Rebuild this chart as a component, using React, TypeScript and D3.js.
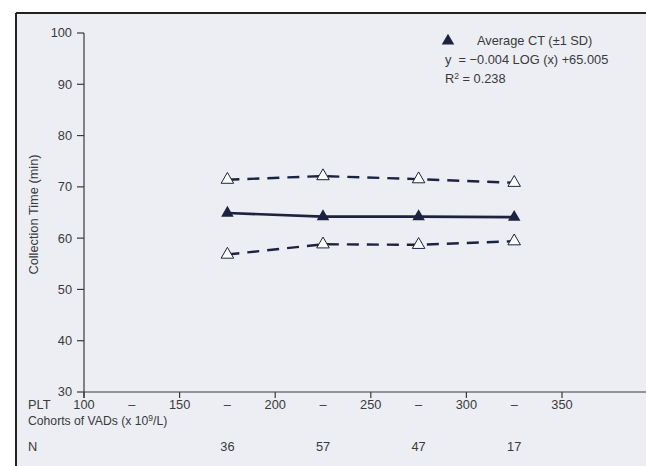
import React from 'react';
import * as d3 from 'd3';

// PLT cohort midpoints (x 10^9/L) and values
const cohorts = [175, 225, 275, 325];
const avgCT = [64.9, 64.2, 64.2, 64.1];
const upperSD = [71.4, 72.1, 71.5, 70.8];
const lowerSD = [56.8, 58.8, 58.7, 59.4];
const nCounts = [36, 57, 47, 17];

const xTicks = [100, 150, 200, 250, 300, 350];
const dashTicks = [125, 175, 225, 275, 325];
const yTicks = [30, 40, 50, 60, 70, 80, 90, 100];

const W = 646;
const H = 466;
const ink = '#1c2340';
const txt = '#3a3a3a';
const font = '"Liberation Sans", Arial, sans-serif';
const fs = 12.8;

const App = () => {
  const x = d3.scaleLinear().domain([100, 350]).range([84, 562]);
  const y = d3.scaleLinear().domain([30, 100]).range([392, 33]);

  const line = d3
    .line<number>()
    .x((_, i) => x(cohorts[i]))
    .y(d => y(d));

  const tri = d3.symbol().type(d3.symbolTriangle).size(68)();

  return (
    <svg
      width={W}
      height={H}
      style={{ position: 'absolute', left: 0, top: 0, background: '#fff' }}
      fontFamily={font}
    >
      {/* panel */}
      <rect x={16} y={13} width={W - 16} height={H - 13} fill="#eceef4" />
      <line x1={16} y1={13} x2={W} y2={13} stroke="#222" strokeWidth={2} />
      <line x1={16} y1={13} x2={16} y2={H} stroke="#222" strokeWidth={2} />

      {/* y axis */}
      <line x1={x(100)} y1={y(100)} x2={x(100)} y2={y(30) + 6} stroke={txt} strokeWidth={1.2} />
      {yTicks.map(t => (
        <g key={t}>
          <line x1={x(100) - 7} x2={x(100)} y1={y(t)} y2={y(t)} stroke={txt} strokeWidth={1.2} />
          <text x={x(100) - 12} y={y(t)} dy="0.35em" textAnchor="end" fontSize={fs} fill={txt}>
            {t}
          </text>
        </g>
      ))}
      <text
        transform={`translate(38,${(y(30) + y(100)) / 2 + 2}) rotate(-90)`}
        textAnchor="middle"
        fontSize={fs}
        fill={txt}
      >
        Collection Time (min)
      </text>

      {/* x axis */}
      <line x1={x(100)} y1={y(30)} x2={W} y2={y(30)} stroke={txt} strokeWidth={1.2} />
      {xTicks.map(t => (
        <g key={t}>
          <line x1={x(t)} x2={x(t)} y1={y(30)} y2={y(30) + 6} stroke={txt} strokeWidth={1.2} />
          <text x={x(t)} y={409} textAnchor="middle" fontSize={fs} fill={txt}>
            {t}
          </text>
        </g>
      ))}
      {dashTicks.map(t => (
        <text key={t} x={x(t)} y={409} textAnchor="middle" fontSize={fs} fill={txt}>
          –
        </text>
      ))}
      <text x={28} y={409} fontSize={fs} fill={txt}>PLT</text>
      <text x={28} y={425} fontSize={12.2} fill={txt}>
        Cohorts of VADs (x 10<tspan fontSize={8.5} dy={-4}>9</tspan>
        <tspan dy={4}>/L)</tspan>
      </text>
      <text x={28} y={451} fontSize={fs} fill={txt}>N</text>
      {nCounts.map((n, i) => (
        <text key={i} x={x(cohorts[i])} y={451} textAnchor="middle" fontSize={fs} fill={txt}>
          {n}
        </text>
      ))}

      {/* SD bands */}
      {[upperSD, lowerSD].map((s, k) => (
        <g key={k}>
          <path d={line(s) || ''} fill="none" stroke={ink} strokeWidth={2.4} strokeDasharray="12,8" />
          {s.map((v, i) => (
            <path
              key={i}
              d={tri || ''}
              transform={`translate(${x(cohorts[i])},${y(v)})`}
              fill="#fff"
              stroke={ink}
              strokeWidth={1}
            />
          ))}
        </g>
      ))}

      {/* average */}
      <path d={line(avgCT) || ''} fill="none" stroke={ink} strokeWidth={2.6} />
      {avgCT.map((v, i) => (
        <path key={i} d={tri || ''} transform={`translate(${x(cohorts[i])},${y(v)})`} fill={ink} />
      ))}

      {/* legend */}
      <path d={tri || ''} transform="translate(448,41)" fill={ink} />
      <text x={477} y={45} fontSize={fs} fill={txt}>Average CT (±1 SD)</text>
      <text x={445} y={64} fontSize={fs} fill={txt}>
        {'y\u00a0\u00a0= −0.004 LOG (x) +65.005'}
      </text>
      <text x={445} y={83} fontSize={fs} fill={txt}>
        R<tspan fontSize={8.5} dy={-4}>2</tspan>
        <tspan dy={4}> = 0.238</tspan>
      </text>
    </svg>
  );
};

export default App;
